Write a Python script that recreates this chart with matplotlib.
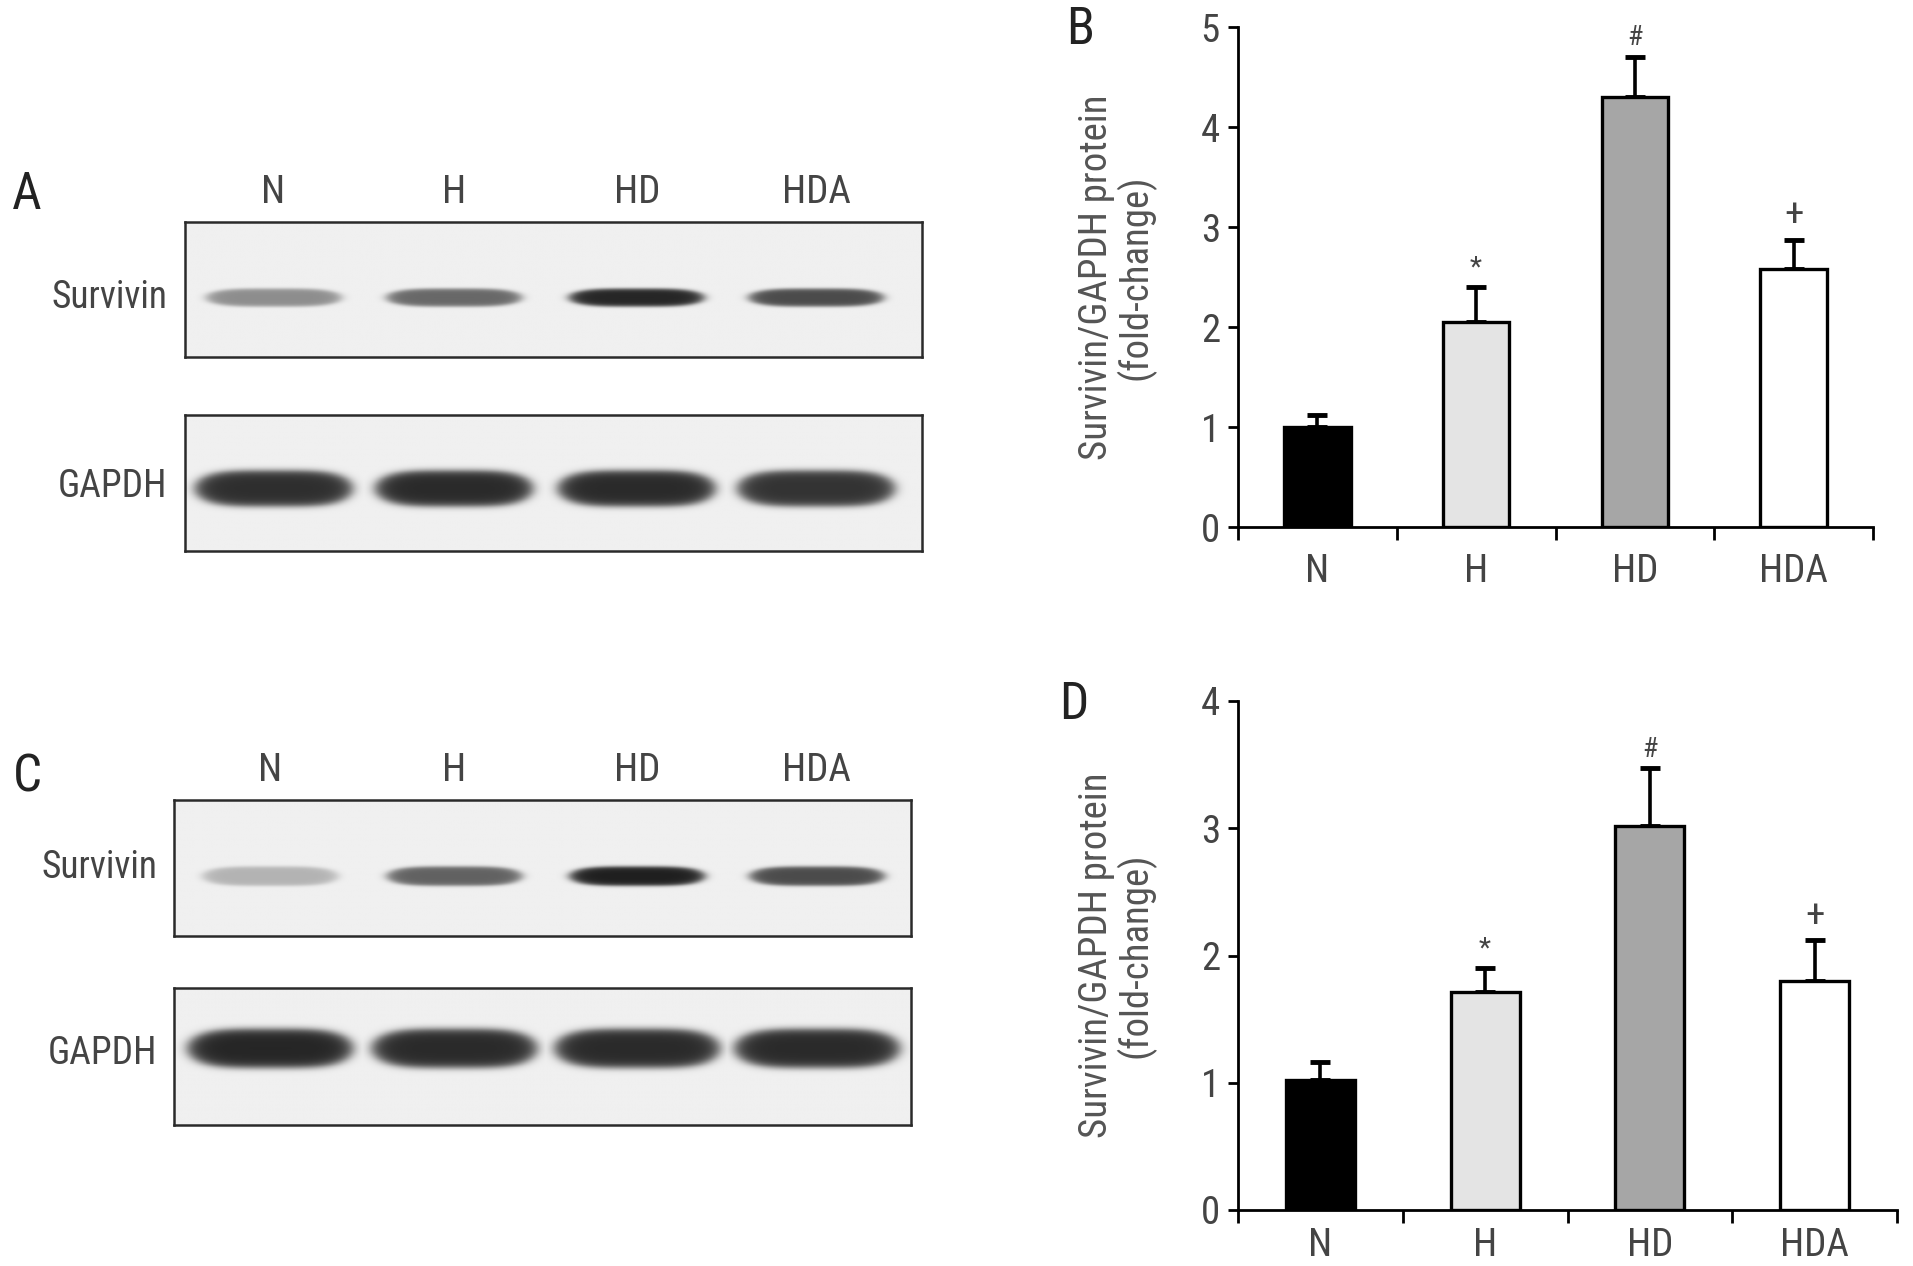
import matplotlib
matplotlib.use("Agg")
import matplotlib.pyplot as plt
import numpy as np
from matplotlib import font_manager
from matplotlib.colors import LinearSegmentedColormap

# condensed face if there is one, else plain Liberation Sans
names = set(f.name for f in font_manager.fontManager.ttflist)
fam = "Liberation Sans"
for f in ["Liberation Sans Narrow", "Roboto Condensed", "Open Sans Condensed"]:
    if f in names:
        fam = f
        break
plt.rcParams['font.family'] = [fam, 'DejaVu Sans']

# groups
lanes = ["N", "H", "HD", "HDA"]

# band intensities read from the blots (0 = none, 1 = black)
survivin_a = [0.45, 0.62, 0.92, 0.75]
gapdh_a = [0.88, 0.9, 0.9, 0.86]
survivin_c = [0.28, 0.65, 0.95, 0.75]
gapdh_c = [0.92, 0.9, 0.9, 0.9]

# quantification (mean and upper error)
mean_b = [1.0, 2.05, 4.3, 2.58]
err_b = [0.12, 0.35, 0.4, 0.29]
mean_d = [1.02, 1.71, 3.02, 1.8]
err_d = [0.14, 0.19, 0.45, 0.32]
marks = ["", "*", "#", "+"]

bar_colors = ["black", "#e4e4e4", "#a6a6a6", "white"]
txt = "#444444"

W, H = 1913, 1266
fig = plt.figure(figsize=(W / 100, H / 100), dpi=100)


def box(x0, y0, x1, y1):
    # pixel box -> figure fraction rect
    return [x0 / W, 1 - y1 / H, (x1 - x0) / W, (y1 - y0) / H]


cmap = LinearSegmentedColormap.from_list("blot", ["#f0f0f0", "#121212"])


def blot(rect, lane_x, vals, cy, bw, bh):
    ax = fig.add_axes(rect)
    xx, yy = np.meshgrid(np.linspace(0, 1, 700), np.linspace(0, 1, 160))
    img = np.zeros_like(xx)
    for cx, v in zip(lane_x, vals):
        r = (np.abs(xx - cx) / (bw / 2)) ** 4 + (np.abs(yy - cy) / (bh / 2)) ** 2
        img = np.maximum(img, v / (1 + np.exp((r - 1) / 0.22)))
    ax.imshow(img, cmap=cmap, vmin=0, vmax=1, extent=[0, 1, 0, 1],
              origin="lower", aspect="auto", interpolation="bilinear")
    ax.set_xticks([])
    ax.set_yticks([])
    for s in ax.spines.values():
        s.set_linewidth(1.8)
        s.set_color("#2a2a2a")
    return ax


# ---- panel A ----
lx_a = [0.12, 0.365, 0.613, 0.857]
ax1 = blot(box(185, 222, 922, 357), lx_a, survivin_a, 0.44, 0.18, 0.13)
ax2 = blot(box(185, 415, 922, 551), lx_a, gapdh_a, 0.46, 0.21, 0.26)
for x, l in zip(lx_a, lanes):
    ax1.text(x, 1.22, l, transform=ax1.transAxes, ha="center", va="center",
             fontsize=28, color=txt)
fig.text(167 / W, 1 - 298 / H, "Survivin", ha="right", va="center", fontsize=27, color=txt)
fig.text(167 / W, 1 - 486 / H, "GAPDH", ha="right", va="center", fontsize=27, color=txt)
fig.text(27 / W, 1 - 195 / H, "A", ha="center", va="center", fontsize=37, color="#222222")

# ---- panel C ----
lx_c = [0.13, 0.38, 0.628, 0.872]
ax3 = blot(box(174, 800, 911, 936), lx_c, survivin_c, 0.44, 0.18, 0.14)
ax4 = blot(box(174, 988, 911, 1125), lx_c, gapdh_c, 0.56, 0.22, 0.28)
for x, l in zip(lx_c, lanes):
    ax3.text(x, 1.22, l, transform=ax3.transAxes, ha="center", va="center",
             fontsize=28, color=txt)
fig.text(157 / W, 1 - 867 / H, "Survivin", ha="right", va="center", fontsize=27, color=txt)
fig.text(157 / W, 1 - 1054 / H, "GAPDH", ha="right", va="center", fontsize=27, color=txt)
fig.text(27 / W, 1 - 778 / H, "C", ha="center", va="center", fontsize=37, color="#222222")


def bars(rect, means, errs, ymax, label_x, xpad):
    ax = fig.add_axes(rect)
    x = np.arange(len(lanes)) + 0.5
    ax.bar(x, means, width=0.42, color=bar_colors, edgecolor="black", linewidth=2.4, zorder=3)
    ax.errorbar(x, means, yerr=[np.zeros(len(errs)), errs], fmt="none", ecolor="black",
                elinewidth=2.6, capsize=7, capthick=3.5, zorder=2)
    for xi, m, e, s in zip(x, means, errs, marks):
        if s:
            fs = 28 if s == "+" else 20
            ax.annotate(s, (xi, m + e), xytext=(0, 4), textcoords="offset points",
                        ha="center", va="bottom", fontsize=fs, color=txt)
    ax.set_xlim(0, 4)
    ax.set_ylim(0, ymax)
    ax.set_yticks(range(ymax + 1))
    ax.set_xticks(range(5))
    ax.set_xticklabels([])
    ax.set_xticks(x, minor=True)
    ax.set_xticklabels(lanes, minor=True)
    ax.tick_params(axis="x", which="minor", length=0, pad=xpad, labelsize=28, labelcolor=txt)
    ax.tick_params(axis="x", which="major", length=9, width=2)
    ax.tick_params(axis="y", length=7, width=2, pad=6, labelsize=28, labelcolor=txt)
    for s in ["top", "right"]:
        ax.spines[s].set_visible(False)
    for s in ["left", "bottom"]:
        ax.spines[s].set_linewidth(2)
    ax.set_ylabel("Survivin/GAPDH protein\n(fold-change)", fontsize=28, color="#555555",
                  linespacing=1.0)
    ax.yaxis.set_label_coords(label_x, 0.5)
    return ax


bars(box(1238, 27, 1873, 527), mean_b, err_b, 5, -0.13, 19)
fig.text(1080 / W, 1 - 30 / H, "B", ha="center", va="center", fontsize=37, color="#222222")
bars(box(1238, 701, 1897, 1210), mean_d, err_d, 4, -0.125, 12)
fig.text(1074 / W, 1 - 705 / H, "D", ha="center", va="center", fontsize=37, color="#222222")

fig.savefig("out.png", dpi=100, facecolor="white")
